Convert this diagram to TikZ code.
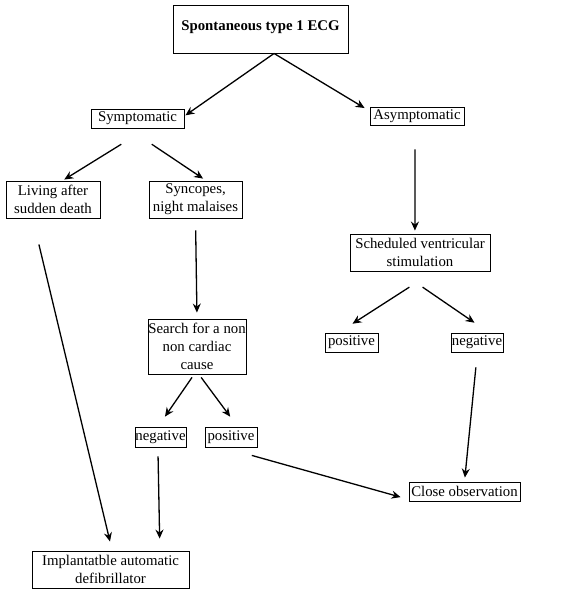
\documentclass[tikz,border=0pt]{standalone}
\usepackage{fontspec}
\setmainfont{Liberation Serif}
\usetikzlibrary{arrows.meta}

\tikzset{
  box/.style={draw, line width=0.9pt, inner sep=0pt, align=center,
    font=\fontsize{14.8}{17.7}\selectfont},
  arr/.style={line width=1.3pt, -{Stealth[length=9pt,width=8pt,inset=3pt]}}
}

\begin{document}
\begin{tikzpicture}[x=1pt,y=-1pt]
\useasboundingbox (0,0) rectangle (577,589);
% Boxes
\node[box, minimum width=175pt, text height=25pt, text depth=23pt,
  font=\fontsize{14.8}{17.7}\selectfont\bfseries] (ecg) at (260.5,29) {Spontaneous type 1 ECG};
\node[box, minimum width=93pt, minimum height=19pt] (sym) at (137.5,118.5) {Symptomatic};
\node[box, minimum width=94pt, minimum height=18pt] (asym) at (417,116) {Asymptomatic};
\node[box, minimum width=94pt, minimum height=37pt] (living) at (53,199.5) {Living after\\sudden death};
\node[box, minimum width=93pt, minimum height=37pt] (sync) at (195.5,199.5) {Syncopes,\\night malaises};
\node[box, minimum width=140pt, minimum height=37pt] (sched) at (420,252.5) {Scheduled ventricular\\stimulation};
\node[box, minimum width=98pt, minimum height=55pt] (search) at (197,346.5) {Search for a non\\non cardiac\\cause};
\node[box, minimum width=53pt, minimum height=19pt] (posR) at (351.5,342.5) {positive};
\node[box, minimum width=52pt, minimum height=19pt] (negR) at (477,342.5) {negative};
\node[box, minimum width=51pt, minimum height=20pt] (negM) at (160.5,437) {negative};
\node[box, minimum width=52pt, minimum height=20pt] (posM) at (231,437) {positive};
\node[box, minimum width=111pt, minimum height=19pt] (close) at (464.5,491.5) {Close observation};
\node[box, minimum width=157pt, minimum height=37pt] (icd) at (110.5,569.5) {Implantatble automatic\\defibrillator};
% Arrows
\draw[arr, shorten >=1.2pt] (ecg.-61) -- (sym.3);
\draw[arr, shorten >=5.8pt] (ecg.-61) -- (asym.174);
\draw[arr, shorten <=30pt, shorten >=1.9pt] (sym.-47) -- (living.63);
\draw[arr, shorten <=28.3pt, shorten >=3.5pt] (sym.-133) -- (sync.61);
\draw[arr, shorten <=24pt, shorten >=3pt] (asym.-102) -- (sched.105);
\draw[arr, shorten <=12pt, shorten >=6pt] (sync.south) -- (search.north);
\draw[arr, shorten <=29pt, shorten >=16.3pt] (sched.-54.5) -- (posR.142);
\draw[arr, shorten <=27.8pt, shorten >=17.4pt] (sched.-137) -- (negR.40);
\draw[arr, shorten <=15pt, shorten >=4pt] (negR.-88) -- (close.north);
\draw[arr, shorten <=3.6pt, shorten >=12.1pt] (search.-96) -- (negM.103);
\draw[arr, shorten <=3.7pt, shorten >=12.3pt] (search.-86) -- (posM.58);
\draw[arr, shorten <=26.7pt, shorten >=9.3pt] (living.-137.5) -- (icd.85);
\draw[arr, shorten <=9pt, shorten >=12pt] (negM.-104) -- (icd.21.3);
\draw[arr, shorten <=29.5pt, shorten >=8.3pt] (posM.-126.5) -- (close.-172);
\end{tikzpicture}
\end{document}
